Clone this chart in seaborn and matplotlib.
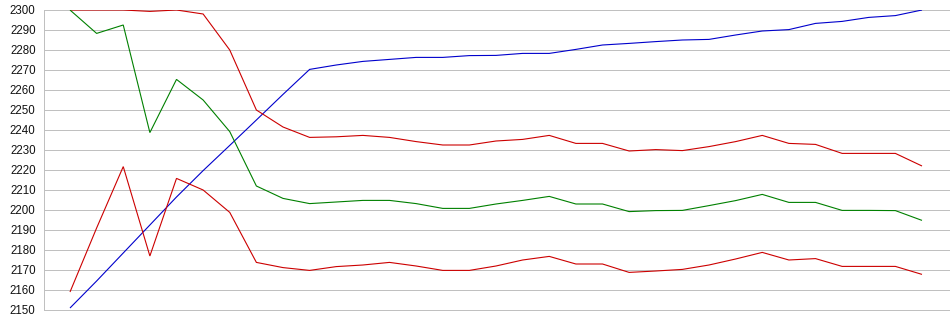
import matplotlib
matplotlib.use("Agg")
import matplotlib.pyplot as plt
import numpy as np
import pandas as pd
import seaborn as sns

# Series values, one per step along the x axis
blue = [2151, 2164.5, 2178.5, 2192.5, 2206.5, 2219.7, 2232.3, 2245, 2257.8, 2270.3,
        2272.5, 2274.3, 2275.3, 2276.3, 2276.3, 2277.2, 2277.3, 2278.3, 2278.3, 2280.3,
        2282.5, 2283.3, 2284.2, 2285, 2285.3, 2287.5, 2289.5, 2290.2, 2293.3, 2294.3,
        2296.3, 2297.2, 2300]
upper_red = [2300, 2300, 2300, 2299.3, 2300, 2298, 2280, 2250, 2241.5, 2236.3,
             2236.6, 2237.3, 2236.3, 2234.2, 2232.5, 2232.5, 2234.5, 2235.3, 2237.3, 2233.3,
             2233.3, 2229.5, 2230.2, 2229.7, 2231.7, 2234.2, 2237.3, 2233.3, 2232.8, 2228.3,
             2228.3, 2228.3, 2222]
green = [2300, 2288.3, 2292.5, 2238.7, 2265.3, 2255, 2239.2, 2212, 2205.8, 2203.2,
         2204, 2204.8, 2204.8, 2203.2, 2200.8, 2200.8, 2203, 2204.8, 2206.8, 2203,
         2203, 2199.2, 2199.7, 2199.8, 2202.2, 2204.7, 2207.8, 2203.8, 2203.8, 2199.8,
         2199.8, 2199.7, 2194.8]
lower_red = [2159, 2191, 2221.7, 2177, 2215.8, 2210, 2198.8, 2173.8, 2171.2, 2169.8,
             2171.7, 2172.5, 2173.8, 2172, 2169.8, 2169.8, 2172, 2175, 2176.8, 2173,
             2173, 2168.8, 2169.5, 2170.3, 2172.5, 2175.5, 2178.8, 2175, 2175.7, 2171.8,
             2171.8, 2171.8, 2167.8]

series_names = ["blue", "upper_red", "green", "lower_red"]
series_colors = {"blue": "#0000cc", "upper_red": "#cc0000",
                 "green": "#008000", "lower_red": "#cc0000"}
y_ticks = list(range(2150, 2301, 10))

steps = np.arange(len(blue))
df = pd.concat([
    pd.DataFrame({"step": steps, "value": vals, "series": name})
    for name, vals in zip(series_names, [blue, upper_red, green, lower_red])
])

sns.set_theme(style="white")
plt.rcParams["font.family"] = ["Liberation Sans", "DejaVu Sans"]

fig = plt.figure(figsize=(9.5, 3.35), dpi=100)
ax = fig.add_axes([44 / 950, 25 / 335, 1 - 44 / 950, 300 / 335])

for y in y_ticks:
    ax.axhline(y, color="#c0c0c0", linewidth=0.72, zorder=0, antialiased=False)
n_grid = len(ax.get_lines())

sns.lineplot(data=df, x="step", y="value", hue="series", palette=series_colors,
             hue_order=series_names, units="series", estimator=None,
             legend=False, ax=ax, zorder=3)
for line in ax.get_lines()[n_grid:]:
    line.set_linewidth(0.8)
    line.set_antialiased(True)
    line.set_solid_joinstyle("miter")
    line.set_solid_capstyle("butt")

ax.set_xlim(-26 / 26.625, 880 / 26.625)
ax.set_ylim(2150, 2300)
ax.set_yticks(y_ticks)
ax.set_yticklabels([str(t) for t in y_ticks], fontsize=8.3, color="#111111")
ax.set_xticks([])
ax.tick_params(axis="y", length=0, pad=6)
ax.set_xlabel("")
ax.set_ylabel("")
for side in ["top", "right"]:
    ax.spines[side].set_visible(False)
for side in ["left", "bottom"]:
    ax.spines[side].set_color("#c0c0c0")
    ax.spines[side].set_linewidth(0.72)
    ax.spines[side].set_antialiased(False)

fig.savefig("out.png", dpi=100)
